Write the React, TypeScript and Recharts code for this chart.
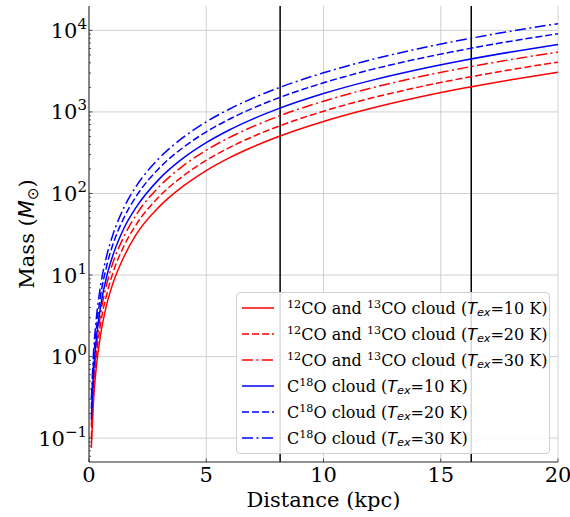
import {
  LineChart, Line, XAxis, YAxis, CartesianGrid, ReferenceLine, Legend, Label,
} from 'recharts';

// distance in kpc
const distance = [0.1, 0.2, 0.3, 0.5, 0.75, 1, 1.5, 2, 3, 4, 5, 6, 7, 8, 10, 12, 14, 16, 18, 20];

// mass (Msun)
const co10 = [0.076, 0.31, 0.69, 1.9, 4.3, 7.6, 17, 31, 69, 122, 191, 275, 374, 489, 764, 1100, 1500, 1960, 2480, 3060];
const co20 = [0.10, 0.41, 0.92, 2.6, 5.7, 10.2, 23, 41, 92, 163, 255, 367, 500, 653, 1020, 1470, 2000, 2610, 3300, 4080];
const co30 = [0.14, 0.54, 1.2, 3.4, 7.6, 13.6, 30, 54, 122, 217, 339, 488, 664, 867, 1355, 1950, 2660, 3470, 4390, 5420];
const c18o10 = [0.17, 0.67, 1.5, 4.2, 9.5, 16.8, 38, 67, 151, 269, 420, 605, 823, 1075, 1680, 2420, 3290, 4300, 5440, 6720];
const c18o20 = [0.23, 0.91, 2.0, 5.7, 12.8, 22.8, 51, 91, 205, 364, 569, 819, 1115, 1456, 2275, 3280, 4460, 5820, 7370, 9100];
const c18o30 = [0.30, 1.2, 2.7, 7.6, 17, 30, 68, 121, 272, 483, 755, 1087, 1480, 1930, 3020, 4350, 5920, 7730, 9780, 12080];

const xTicks = [0, 5, 10, 15, 20];
const yMajor = [0.1, 1, 10, 100, 1000, 10000];
const yMinor = [
  0.06, 0.07, 0.08, 0.09,
  0.2, 0.3, 0.4, 0.5, 0.6, 0.7, 0.8, 0.9,
  2, 3, 4, 5, 6, 7, 8, 9,
  20, 30, 40, 50, 60, 70, 80, 90,
  200, 300, 400, 500, 600, 700, 800, 900,
  2000, 3000, 4000, 5000, 6000, 7000, 8000, 9000,
];
const markers = [8.15, 16.3];

const data = distance.map((d, i) => ({
  d, co10: co10[i], co20: co20[i], co30: co30[i],
  c18o10: c18o10[i], c18o20: c18o20[i], c18o30: c18o30[i],
}));

const series = [
  { key: 'co10', color: '#ff0000', dash: undefined, iso: 'co', temp: 10 },
  { key: 'co20', color: '#ff0000', dash: '7 3', iso: 'co', temp: 20 },
  { key: 'co30', color: '#ff0000', dash: '11 3.5 2 3.5', iso: 'co', temp: 30 },
  { key: 'c18o10', color: '#0000ff', dash: undefined, iso: 'c18o', temp: 10 },
  { key: 'c18o20', color: '#0000ff', dash: '7 3', iso: 'c18o', temp: 20 },
  { key: 'c18o30', color: '#0000ff', dash: '11 3.5 2 3.5', iso: 'c18o', temp: 30 },
];

const serif = '"DejaVu Serif", serif';
const sans = '"DejaVu Sans", sans-serif';
const spine = '#262626';

const sup = { fontSize: '0.7em', position: 'relative' as const, top: '-0.45em' };

const LegendText = ({ iso, temp }: { iso: string; temp: number }) => (
  <span>
    {iso === 'co' ? (
      <><span style={sup}>12</span>CO and <span style={sup}>13</span>CO cloud (</>
    ) : (
      <>C<span style={sup}>18</span>O cloud (</>
    )}
    <span style={{ fontFamily: sans, fontStyle: 'italic' }}>T</span>
    <span style={{ fontFamily: sans, fontStyle: 'italic', fontSize: '0.7em', position: 'relative', top: '0.25em' }}>ex</span>
    ={temp} K)
  </span>
);

const renderLegend = () => (
  <div style={{
    background: 'rgba(255,255,255,0.85)', border: '1px solid #d0d0d0', borderRadius: 4,
    padding: '2px 0 2px 5px', fontFamily: serif, fontSize: 16, color: '#000', whiteSpace: 'nowrap',
  }}>
    {series.map((s) => (
      <div key={s.key} style={{ display: 'flex', alignItems: 'center', height: 26 }}>
        <svg width={32} height={6} style={{ marginRight: 13 }}>
          <line x1={0} x2={32} y1={3} y2={3} stroke={s.color} strokeWidth={1.5} strokeDasharray={s.dash} />
        </svg>
        <LegendText iso={s.iso} temp={s.temp} />
      </div>
    ))}
  </div>
);

const YTick = ({ x, y, payload }: any) => {
  const v = payload.value;
  const major = yMajor.includes(v);
  const exp = Math.round(Math.log10(v));
  return (
    <g>
      <line x1={x} x2={x + (major ? 3.5 : 2)} y1={y} y2={y} stroke={spine} strokeWidth={0.8} />
      {major && (
        <text x={x - 2} y={y + 7.5} textAnchor="end" fontFamily={serif} fontSize={21} fill="#000">
          10<tspan dy={-9} fontSize={15}>{exp < 0 ? `\u2212${-exp}` : exp}</tspan>
        </text>
      )}
    </g>
  );
};

const XTick = ({ x, y, payload }: any) => (
  <g>
    <line x1={x} x2={x} y1={y} y2={y - 3.5} stroke={spine} strokeWidth={0.8} />
    <text x={x} y={y + 20} textAnchor="middle" fontFamily={serif} fontSize={21} fill="#000">
      {payload.value}
    </text>
  </g>
);

export default function App() {
  return (
    <div style={{ position: 'absolute', left: 0, top: 0 }}>
      <LineChart width={570} height={517} data={data} margin={{ top: 6, right: 12, left: 0, bottom: 0 }}>
        <CartesianGrid stroke="#c4c4c4" strokeWidth={0.8} horizontalValues={yMajor} verticalValues={xTicks} />
        <XAxis
          dataKey="d" type="number" domain={[0, 20]} ticks={xTicks} height={55}
          tickSize={0} tickMargin={0} tick={<XTick />} axisLine={{ stroke: spine, strokeWidth: 1 }}
          allowDataOverflow
        >
          <Label
            content={({ viewBox }: any) => (
              <text x={viewBox.x + viewBox.width / 2} y={viewBox.y + 45} textAnchor="middle" fontFamily={serif} fontSize={21} fill="#000">
                Distance (kpc)
              </text>
            )}
          />
        </XAxis>
        <XAxis xAxisId="top" orientation="top" type="number" domain={[0, 20]} height={0} tick={false} tickLine={false} axisLine={{ stroke: spine, strokeWidth: 1 }} />
        <YAxis
          type="number" scale="log" domain={[0.051, 19900]} ticks={[...yMajor, ...yMinor]} width={89}
          tickSize={0} tickMargin={0} tick={<YTick />} axisLine={{ stroke: spine, strokeWidth: 1 }}
          allowDataOverflow interval={0}
        >
          <Label
            content={({ viewBox }: any) => {
              const cx = 34;
              const cy = viewBox.y + viewBox.height / 2;
              return (
                <text x={cx} y={cy} transform={`rotate(-90 ${cx} ${cy})`} textAnchor="middle" fontFamily={serif} fontSize={21} fill="#000">
                  Mass (<tspan fontFamily={sans} fontStyle="italic">M</tspan>
                  <tspan fontFamily={sans} fontSize={15} dy={4}>{'\u2299'}</tspan>
                  <tspan dy={-4}>)</tspan>
                </text>
              );
            }}
          />
        </YAxis>
        <YAxis yAxisId="right" orientation="right" width={0} tick={false} tickLine={false} axisLine={{ stroke: spine, strokeWidth: 1 }} />
        {markers.map((m) => (
          <ReferenceLine key={m} x={m} stroke="#000" strokeWidth={1.5} />
        ))}
        {series.map((s) => (
          <Line
            key={s.key} type="monotone" dataKey={s.key} stroke={s.color} strokeWidth={1.5}
            strokeDasharray={s.dash} dot={false} isAnimationActive={false}
          />
        ))}
        <Legend
          content={renderLegend} layout="horizontal" verticalAlign="middle"
          wrapperStyle={{ position: 'absolute', left: 236, top: 292, width: 314 }}
        />
      </LineChart>
    </div>
  );
}
